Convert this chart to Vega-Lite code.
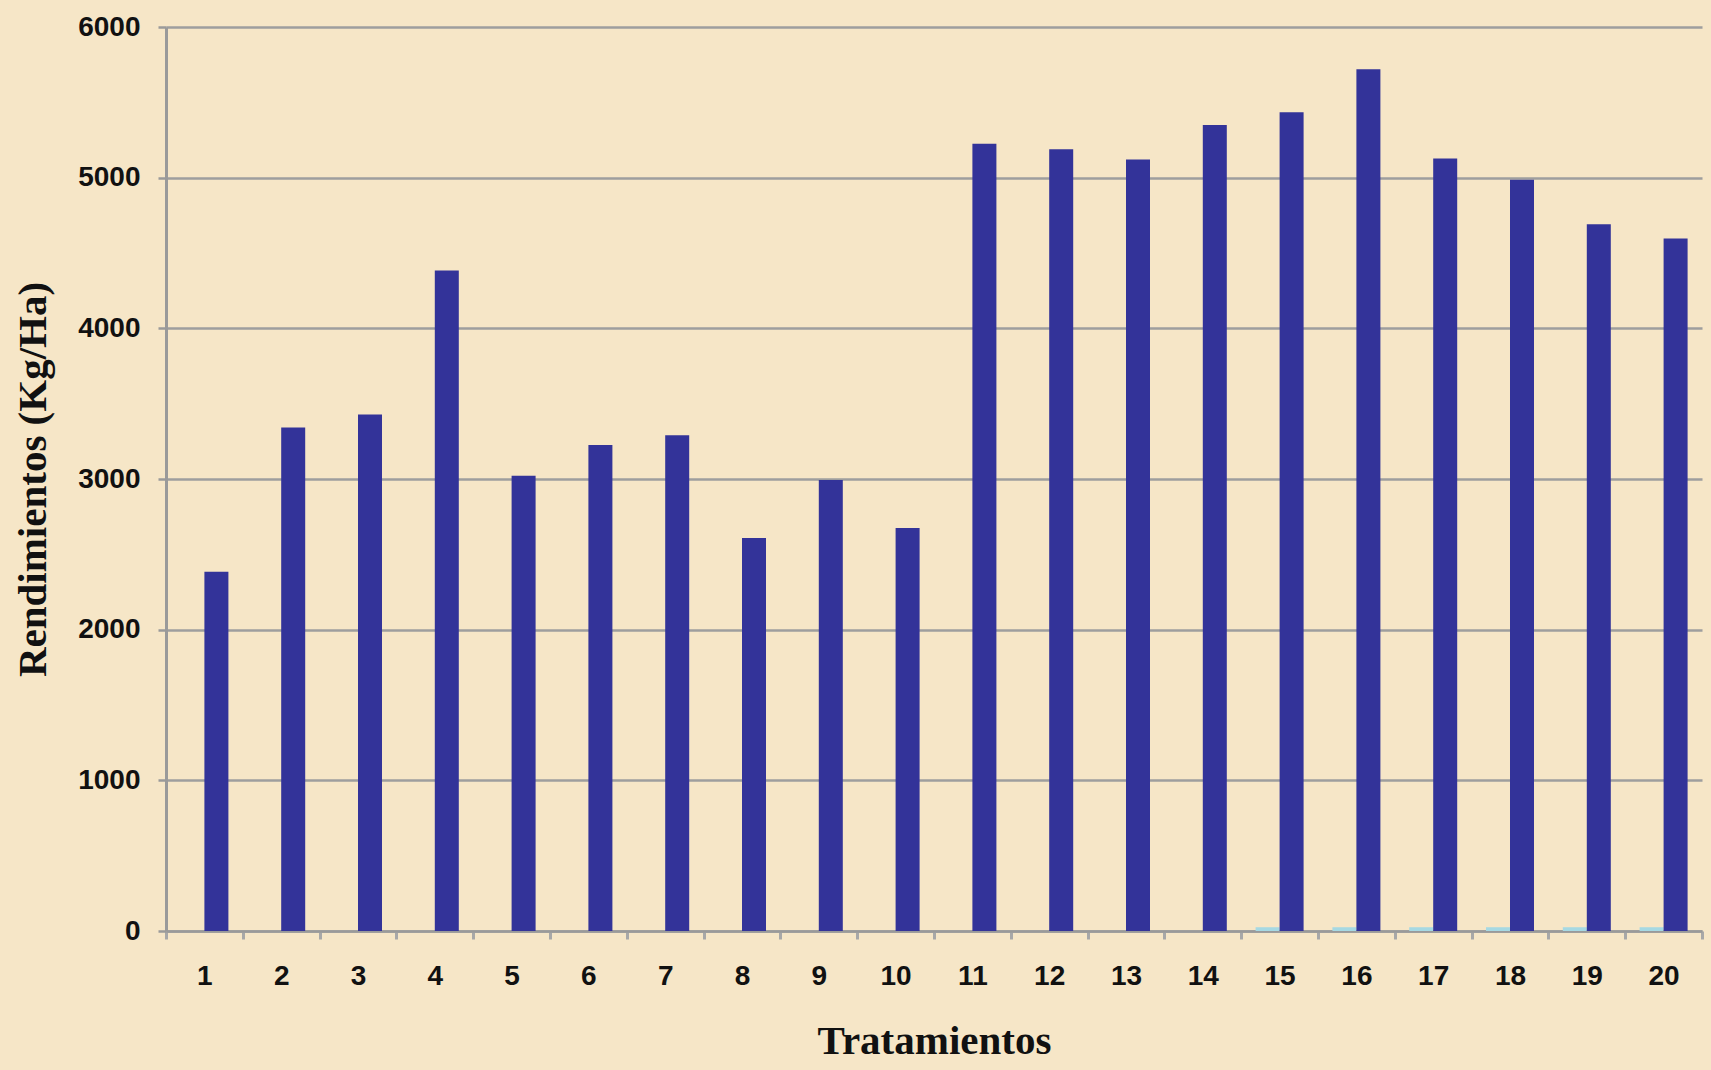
{
  "$schema": "https://vega.github.io/schema/vega-lite/v6.json",
  "width": 1536,
  "height": 904,
  "autosize": {"type": "none"},
  "padding": {"left": 166, "top": 27, "right": 9, "bottom": 139},
  "background": "#f6e6c7",
  "config": {"view": {"stroke": null}},
  "data": {
    "values": [
      {"tratamiento": 1, "serie": "Serie 1", "rendimiento": 0},
      {"tratamiento": 1, "serie": "Serie 2", "rendimiento": 2384},
      {"tratamiento": 2, "serie": "Serie 1", "rendimiento": 0},
      {"tratamiento": 2, "serie": "Serie 2", "rendimiento": 3341},
      {"tratamiento": 3, "serie": "Serie 1", "rendimiento": 0},
      {"tratamiento": 3, "serie": "Serie 2", "rendimiento": 3428},
      {"tratamiento": 4, "serie": "Serie 1", "rendimiento": 0},
      {"tratamiento": 4, "serie": "Serie 2", "rendimiento": 4384},
      {"tratamiento": 5, "serie": "Serie 1", "rendimiento": 0},
      {"tratamiento": 5, "serie": "Serie 2", "rendimiento": 3022},
      {"tratamiento": 6, "serie": "Serie 1", "rendimiento": 0},
      {"tratamiento": 6, "serie": "Serie 2", "rendimiento": 3225},
      {"tratamiento": 7, "serie": "Serie 1", "rendimiento": 0},
      {"tratamiento": 7, "serie": "Serie 2", "rendimiento": 3290},
      {"tratamiento": 8, "serie": "Serie 1", "rendimiento": 0},
      {"tratamiento": 8, "serie": "Serie 2", "rendimiento": 2609},
      {"tratamiento": 9, "serie": "Serie 1", "rendimiento": 0},
      {"tratamiento": 9, "serie": "Serie 2", "rendimiento": 2993},
      {"tratamiento": 10, "serie": "Serie 1", "rendimiento": 0},
      {"tratamiento": 10, "serie": "Serie 2", "rendimiento": 2674},
      {"tratamiento": 11, "serie": "Serie 1", "rendimiento": 0},
      {"tratamiento": 11, "serie": "Serie 2", "rendimiento": 5225},
      {"tratamiento": 12, "serie": "Serie 1", "rendimiento": 0},
      {"tratamiento": 12, "serie": "Serie 2", "rendimiento": 5188},
      {"tratamiento": 13, "serie": "Serie 1", "rendimiento": 0},
      {"tratamiento": 13, "serie": "Serie 2", "rendimiento": 5120},
      {"tratamiento": 14, "serie": "Serie 1", "rendimiento": 0},
      {"tratamiento": 14, "serie": "Serie 2", "rendimiento": 5349},
      {"tratamiento": 15, "serie": "Serie 1", "rendimiento": 25},
      {"tratamiento": 15, "serie": "Serie 2", "rendimiento": 5435},
      {"tratamiento": 16, "serie": "Serie 1", "rendimiento": 25},
      {"tratamiento": 16, "serie": "Serie 2", "rendimiento": 5720},
      {"tratamiento": 17, "serie": "Serie 1", "rendimiento": 25},
      {"tratamiento": 17, "serie": "Serie 2", "rendimiento": 5128},
      {"tratamiento": 18, "serie": "Serie 1", "rendimiento": 25},
      {"tratamiento": 18, "serie": "Serie 2", "rendimiento": 4987},
      {"tratamiento": 19, "serie": "Serie 1", "rendimiento": 25},
      {"tratamiento": 19, "serie": "Serie 2", "rendimiento": 4690},
      {"tratamiento": 20, "serie": "Serie 1", "rendimiento": 25},
      {"tratamiento": 20, "serie": "Serie 2", "rendimiento": 4596}
    ]
  },
  "mark": {"type": "bar"},
  "encoding": {
    "x": {
      "field": "tratamiento",
      "type": "ordinal",
      "sort": "ascending",
      "scale": {"paddingInner": 0, "paddingOuter": 0},
      "axis": {
        "title": "Tratamientos",
        "tickBand": "extent",
        "labelAngle": 0,
        "domainColor": "#9a9a9a",
        "domainWidth": 2.5,
        "tickColor": "#a8a8a8",
        "tickSize": 8,
        "tickWidth": 3,
        "labelFont": "Liberation Sans",
        "labelFontSize": 28,
        "labelFontWeight": "bold",
        "labelColor": "#111111",
        "labelPadding": 23,
        "titleFont": "Liberation Serif",
        "titleFontSize": 41,
        "titleFontWeight": "bold",
        "titleColor": "#111111",
        "titleX": 768,
        "titleY": 110,
        "titleAlign": "center",
        "titleBaseline": "middle"
      }
    },
    "xOffset": {
      "field": "serie",
      "type": "nominal",
      "scale": {"paddingInner": 0, "paddingOuter": 0.6}
    },
    "y": {
      "field": "rendimiento",
      "type": "quantitative",
      "scale": {"domain": [0, 6000], "nice": false},
      "axis": {
        "title": "Rendimientos (Kg/Ha)",
        "values": [0, 1000, 2000, 3000, 4000, 5000, 6000],
        "format": "d",
        "grid": true,
        "gridColor": "#9e9e9e",
        "gridWidth": 2.5,
        "domainColor": "#9a9a9a",
        "domainWidth": 3,
        "tickColor": "#9a9a9a",
        "tickSize": 8,
        "tickWidth": 2.5,
        "labelFont": "Liberation Sans",
        "labelFontSize": 28,
        "labelFontWeight": "bold",
        "labelColor": "#111111",
        "labelPadding": 18,
        "titleFont": "Liberation Serif",
        "titleFontSize": 41,
        "titleFontWeight": "bold",
        "titleColor": "#111111",
        "titleX": -133,
        "titleY": 452,
        "titleAngle": -90,
        "titleAlign": "center",
        "titleBaseline": "middle"
      }
    },
    "color": {
      "field": "serie",
      "type": "nominal",
      "scale": {"domain": ["Serie 1", "Serie 2"], "range": ["#a6d9e3", "#333399"]},
      "legend": null
    }
  }
}
